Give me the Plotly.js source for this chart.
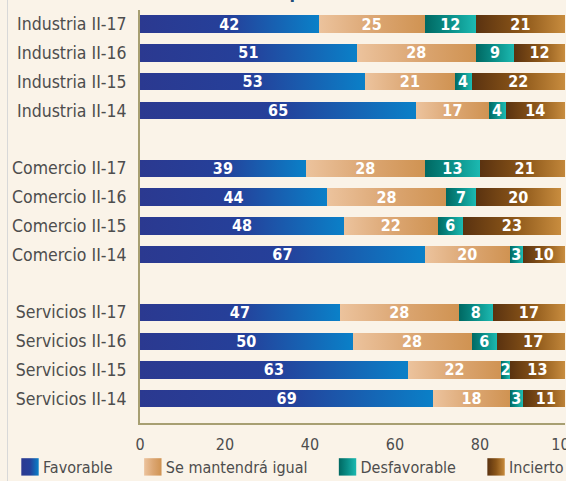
<!DOCTYPE html>
<html>
<head>
<meta charset="utf-8">
<script src="https://cdn.plot.ly/plotly-3.0.1.min.js"></script>
<style>
  html, body { margin: 0; padding: 0; background: #faf3e8; overflow: hidden; width: 566px; height: 481px; }
  #chart { width: 600px; height: 481px; }
</style>
</head>
<body>
<div id="chart"></div>
<script>
// ---- data ----
const rowLabels = [
  'Industria II-17', 'Industria II-16', 'Industria II-15', 'Industria II-14',
  'Comercio II-17', 'Comercio II-16', 'Comercio II-15', 'Comercio II-14',
  'Servicios II-17', 'Servicios II-16', 'Servicios II-15', 'Servicios II-14'
];
// category order with two blank spacer rows between groups
const categoryOrder = [
  'Industria II-17', 'Industria II-16', 'Industria II-15', 'Industria II-14', ' ',
  'Comercio II-17', 'Comercio II-16', 'Comercio II-15', 'Comercio II-14', '  ',
  'Servicios II-17', 'Servicios II-16', 'Servicios II-15', 'Servicios II-14'
];
const seriesNames = ['Favorable', 'Se mantendrá igual', 'Desfavorable', 'Incierto'];
const favorable    = [42, 51, 53, 65, 39, 44, 48, 67, 47, 50, 63, 69];
const seMantendra  = [25, 28, 21, 17, 28, 28, 22, 20, 28, 28, 22, 18];
const desfavorable = [12,  9,  4,  4, 13,  7,  6,  3,  8,  6,  2,  3];
const incierto     = [21, 12, 22, 14, 21, 20, 23, 10, 17, 17, 13, 11];
const xTicks = [0, 20, 40, 60, 80, 100];
const titleText = 'Situación económica de las empresas (%)';

// ---- styles ----
const gradients = [
  ['#2b3990', '#25409a', '#0a80c8'],
  ['#ecc39d', '#dca774', '#d09352'],
  ['#006862', '#0a8f88', '#1cb9b1'],
  ['#5a3210', '#8a5518', '#c88c3e']
];
const solid = ['#1558a8', '#dda877', '#0e9089', '#8f5a1f'];
const font = 'DejaVu Sans Condensed, DejaVu Sans, sans-serif';

const PLOT_L = 140, PLOT_W = 425, PLOT_T = 10, PLOT_H = 413;
const LEGEND_EXTRA_GAP = 8;

const seriesValues = [favorable, seMantendra, desfavorable, incierto];
const traces = seriesValues.map((vals, i) => ({
  type: 'bar',
  orientation: 'h',
  name: seriesNames[i],
  y: rowLabels,
  x: vals,
  text: vals.map(String),
  textposition: 'inside',
  insidetextanchor: 'middle',
  textangle: 0,
  textfont: { family: font, size: 16, color: '#ffffff', weight: 'bold' },
  marker: { color: solid[i], line: { width: 0 } },
  hoverinfo: 'none'
}));

const layout = {
  width: 600,
  height: 481,
  paper_bgcolor: '#faf3e8',
  plot_bgcolor: '#faf3e8',
  margin: { l: PLOT_L, r: 600 - PLOT_L - PLOT_W, t: PLOT_T, b: 481 - PLOT_T - PLOT_H, autoexpand: false },
  barmode: 'stack',
  bargap: 0.4,
  showlegend: true,
  uniformtext: { mode: 'show', minsize: 16 },
  xaxis: {
    range: [0, 100],
    tickvals: xTicks,
    ticktext: xTicks.map(String),
    showgrid: false,
    zeroline: false,
    showline: true,
    linecolor: '#a79f72',
    linewidth: 2,
    ticks: '',
    ticklabelstandoff: 6,
    tickfont: { family: font, size: 16, color: '#4d4d4d' },
    fixedrange: true
  },
  yaxis: {
    type: 'category',
    categoryorder: 'array',
    categoryarray: categoryOrder,
    range: [13.84, -0.49],
    autorange: false,
    showgrid: false,
    zeroline: false,
    showline: true,
    linecolor: '#a79f72',
    linewidth: 2,
    ticks: '',
    ticklabelstandoff: 8,
    tickfont: { family: font, size: 17.5, color: '#4d4d4d' },
    fixedrange: true
  },
  legend: {
    orientation: 'h',
    traceorder: 'normal',
    xref: 'paper', yref: 'paper',
    x: (3 - PLOT_L) / PLOT_W, xanchor: 'left',
    y: (PLOT_T + PLOT_H - 467) / PLOT_H, yanchor: 'middle',
    bgcolor: 'rgba(0,0,0,0)',
    font: { family: font, size: 16, color: '#4d4d4d' }
  },
  annotations: [{
    text: titleText,
    xref: 'paper', yref: 'paper',
    x: (389 - PLOT_L) / PLOT_W, xanchor: 'right',
    y: 1.0 + 18 / PLOT_H, yanchor: 'middle',
    showarrow: false,
    font: { family: font, size: 18, color: '#1f4e79', weight: 'bold' }
  }],
  shapes: [{
    type: 'line', xref: 'paper', yref: 'paper',
    x0: (7.5 - PLOT_L) / PLOT_W, x1: (7.5 - PLOT_L) / PLOT_W,
    y0: -0.2, y1: 1.1,
    line: { color: '#d8d8d8', width: 1 }
  }]
};

function applyGradients(gd) {
  const ns = 'http://www.w3.org/2000/svg';
  const svg = gd.querySelector('svg.main-svg');
  let defs = svg.querySelector('defs');
  if (!defs) { defs = document.createElementNS(ns, 'defs'); svg.insertBefore(defs, svg.firstChild); }
  gradients.forEach((stops, i) => {
    const lg = document.createElementNS(ns, 'linearGradient');
    lg.setAttribute('id', 'barGrad' + i);
    lg.setAttribute('x1', '0'); lg.setAttribute('y1', '0');
    lg.setAttribute('x2', '1'); lg.setAttribute('y2', '0');
    stops.forEach((c, k) => {
      const s = document.createElementNS(ns, 'stop');
      s.setAttribute('offset', String(k / (stops.length - 1)));
      s.setAttribute('stop-color', c);
      lg.appendChild(s);
    });
    defs.appendChild(lg);
  });
  gd.querySelectorAll('.barlayer .trace').forEach(t => {
    const d = t.__data__;
    const idx = d && d[0] && d[0].trace ? d[0].trace.index : null;
    if (idx === null) return;
    t.querySelectorAll('.point path').forEach(p => { p.style.fill = 'url(#barGrad' + idx + ')'; });
  });
  // let the legend entries run past its computed box (as in the cropped original)
  gd.querySelectorAll('.legend [clip-path]').forEach(el => el.removeAttribute('clip-path'));
  gd.querySelectorAll('.legend .traces').forEach(t => {
    const d = t.__data__;
    const idx = d && d[0] && d[0].trace ? d[0].trace.index : null;
    if (idx === null) return;
    t.querySelectorAll('.legendpoints path').forEach(p => {
      p.style.fill = 'url(#barGrad' + idx + ')';
      const tr = p.getAttribute('transform') || '';
      p.setAttribute('transform', tr + ' translate(7,0) scale(1.45)');
    });
    // widen the spacing between legend entries a little
    const tr = t.getAttribute('transform') || '';
    t.setAttribute('transform', tr + ' translate(' + (idx * LEGEND_EXTRA_GAP) + ',0)');
  });
}

Plotly.newPlot('chart', traces, layout, { displayModeBar: false, staticPlot: true })
  .then(applyGradients);
</script>
</body>
</html>
